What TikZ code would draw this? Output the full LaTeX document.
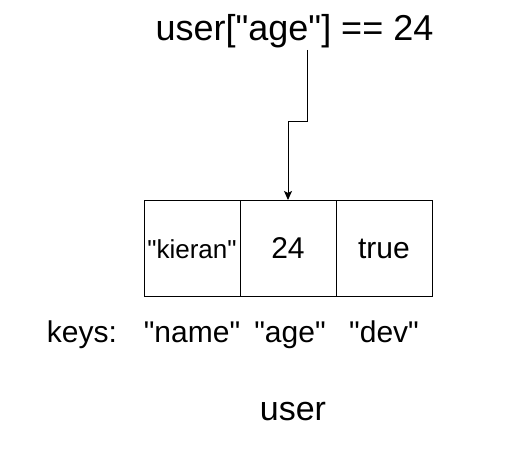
\documentclass[tikz,border=0pt]{standalone}
\usepackage{fontspec}
\setmainfont{Liberation Sans}
\usetikzlibrary{arrows.meta}
\newcommand{\qq}{\textquotedbl}
\begin{document}
\begin{tikzpicture}[x=1pt,y=-1pt,
  cell/.style={draw=black,line width=1pt,minimum width=96pt,minimum height=96pt,inner sep=0pt,outer sep=0pt,text height=24pt,text depth=4pt},
  lbl/.style={inner sep=0pt,anchor=base},
  arr/.style={draw=black,line width=0.9pt,-{Stealth[length=9pt,width=8pt,inset=2pt]}}]
\useasboundingbox (0,0) rectangle (527,460);
\node[lbl,font=\fontsize{36}{42}\selectfont] (title) at (294.5,41) {user[\qq age\qq] == 24};
\node[cell,font=\fontsize{26}{30}\selectfont] (c1) at (192,248) {\qq kieran\qq};
\node[cell,font=\fontsize{30}{36}\selectfont] (c2) at (288,248) {24};
\node[cell,font=\fontsize{30}{36}\selectfont] (c3) at (384,248) {true};
\node[lbl,font=\fontsize{30}{34}\selectfont] (keys) at (82,342) {keys:};
\node[lbl,font=\fontsize{30}{34}\selectfont] (kname) at (192,342) {\qq name\qq};
\node[lbl,font=\fontsize{30}{34}\selectfont] (kage) at (290,342) {\qq age\qq};
\node[lbl,font=\fontsize{30}{34}\selectfont] (kdev) at (384,342) {\qq dev\qq};
\node[lbl,font=\fontsize{34}{38}\selectfont] (user) at (293,420) {user};
\coordinate (s) at (307,50);
\draw[arr] (s) -- (307,121) -- (288,121) -- (c2.north);
\end{tikzpicture}
\end{document}
